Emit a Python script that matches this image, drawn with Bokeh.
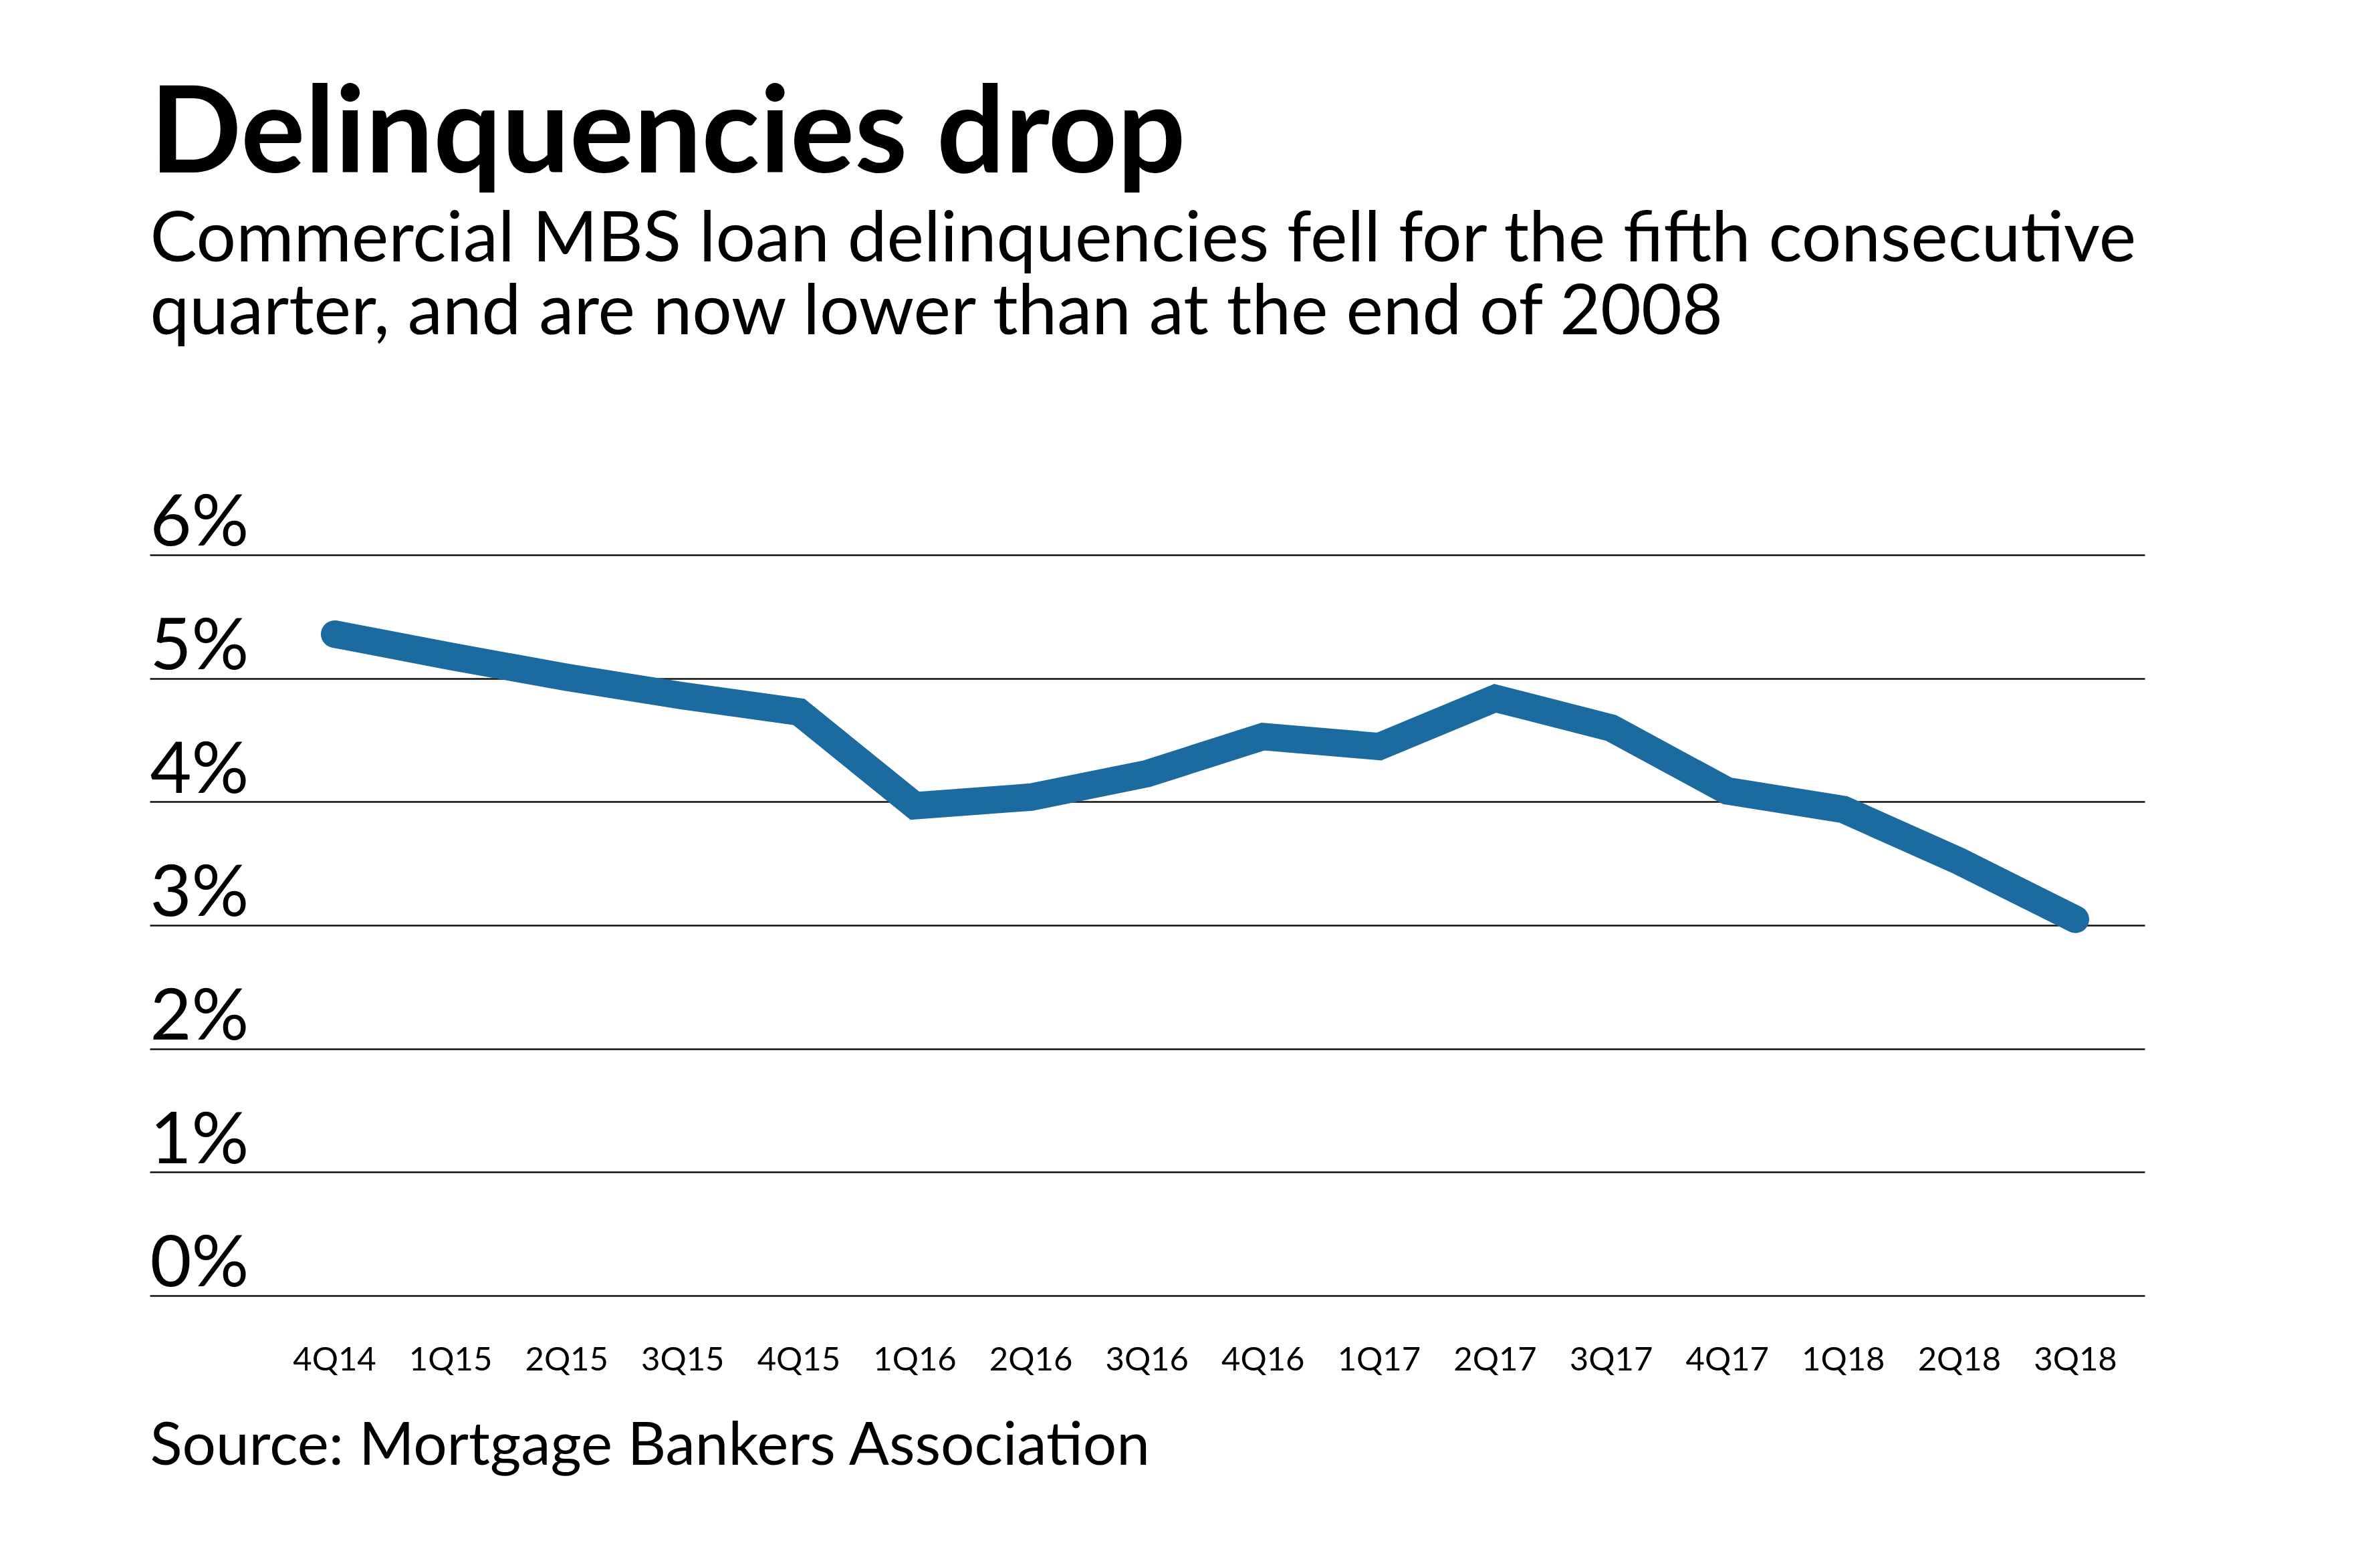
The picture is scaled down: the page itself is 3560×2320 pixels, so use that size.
from bokeh.plotting import figure
from bokeh.models import Range1d, FixedTicker
from bokeh.core.properties import value
from bokeh.embed import file_html
from bokeh.resources import INLINE

# ---- data ----
quarters = ["4Q14", "1Q15", "2Q15", "3Q15", "4Q15", "1Q16", "2Q16", "3Q16",
            "4Q16", "1Q17", "2Q17", "3Q17", "4Q17", "1Q18", "2Q18", "3Q18"]
delinquency = [5.36, 5.18, 5.01, 4.86, 4.73, 3.97, 4.04, 4.23,
               4.53, 4.45, 4.84, 4.60, 4.09, 3.94, 3.52, 3.05]
y_ticks = [0, 1, 2, 3, 4, 5, 6]
y_tick_labels = ["0%", "1%", "2%", "3%", "4%", "5%", "6%"]

title_text = "Delinquencies drop"
subtitle_lines = ["Commercial MBS loan delinquencies fell for the fifth consecutive",
                  "quarter, and are now lower than at the end of 2008"]
source_text = "Source: Mortgage Bankers Association"

FONT = "Lato"
LINE_COLOR = "#1b6aa0"
BASE_SHIFT = 0.36   # empirical baseline correction (fraction of font size)

# ---- layout helpers (page pixel -> data) ----
X0, DX = 508.0, 173.6
Y0, DY = 1946.0, 184.7


def xd(px):
    return (px - X0) / DX


def yd(py):
    return (Y0 - py) / DY


W, H = 3544, 2304
p = figure(width=W, height=H, output_backend="svg", toolbar_location=None,
           x_range=Range1d(xd(8), xd(8 + W)), y_range=Range1d(yd(8 + H), yd(8)),
           min_border=0)
p.outline_line_color = None
p.background_fill_color = "white"
p.border_fill_color = "white"
p.xaxis.visible = False
p.yaxis.visible = False
p.xgrid.visible = False

# horizontal grid lines, limited to the plotting band
grid_left, grid_right = xd(232), xd(3216)
if "cross_bounds" in p.ygrid[0].properties():
    p.ygrid.ticker = FixedTicker(ticks=y_ticks)
    p.ygrid.cross_bounds = (grid_left, grid_right)
    p.ygrid.grid_line_color = "#111111"
    p.ygrid.grid_line_width = 2.5
    p.ygrid.level = "underlay"
else:
    p.ygrid.visible = False
    p.segment(x0=[grid_left] * len(y_ticks), x1=[grid_right] * len(y_ticks),
              y0=y_ticks, y1=y_ticks, line_color="#111111", line_width=2.5)

# data line
xs = list(range(len(quarters)))
p.line(xs, delinquency, line_width=41, line_color=LINE_COLOR,
       line_join="miter", line_cap="round")


def put_text(px, py_base, text, size, bold=False):
    """Place a single text with its baseline at page pixel (px, py_base)."""
    p.text(x=[xd(px)], y=[yd(py_base - BASE_SHIFT * size)], text=[text],
           text_font=value(FONT), text_font_size=f"{size}px",
           text_font_style="bold" if bold else "normal", text_color="black",
           text_align="left", text_baseline="alphabetic")


# y tick labels (above each grid line, left aligned)
ys = 107
p.text(x=[grid_left] * len(y_ticks), y=y_ticks, text=y_tick_labels,
       text_font=value(FONT), text_font_size=f"{ys}px", text_color="black",
       text_font_style="normal",
       text_align="left", text_baseline="alphabetic",
       y_offset=-17 - BASE_SHIFT * ys)

# x tick labels
xsz = 49
p.text(x=xs, y=[0] * len(xs), text=quarters,
       text_font=value(FONT), text_font_size=f"{xsz}px", text_color="black",
       text_font_style="normal",
       text_align="center", text_baseline="alphabetic",
       y_offset=110 - BASE_SHIFT * xsz)

# title, subtitle, source
put_text(232, 260, title_text, 180, bold=True)
put_text(232, 395, subtitle_lines[0], 105)
put_text(232, 504, subtitle_lines[1], 105)
put_text(232, 2196, source_text, 89)

open("out.html", "w").write(file_html(p, INLINE))
